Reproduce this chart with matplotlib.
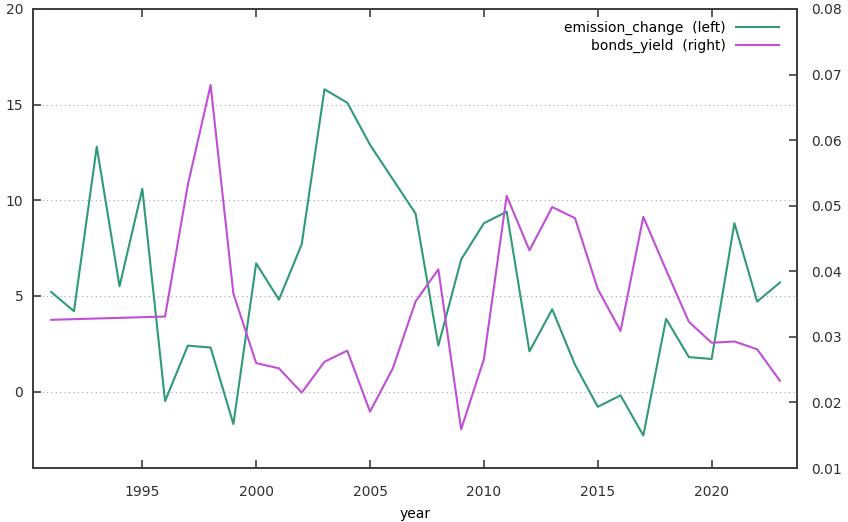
import matplotlib.pyplot as plt
from matplotlib.ticker import FormatStrFormatter

years = list(range(1991, 2024))
emission_change = [5.2, 4.2, 12.8, 5.5, 10.6, -0.5, 2.4, 2.3, -1.7, 6.7,
                   4.8, 7.7, 15.8, 15.1, 12.9, 11.1, 9.3, 2.4, 6.9, 8.8,
                   9.4, 2.1, 4.3, 1.4, -0.8, -0.2, -2.3, 3.8, 1.8, 1.7,
                   8.8, 4.7, 5.7]

bond_years = [1991, 1996, 1997, 1998, 1999, 2000, 2001, 2002, 2003, 2004,
              2005, 2006, 2007, 2008, 2009, 2010, 2011, 2012, 2013, 2014,
              2015, 2016, 2017, 2018, 2019, 2020, 2021, 2022, 2023]
bonds_yield = [0.0326, 0.0331, 0.0532, 0.0684, 0.0366, 0.0260, 0.0252,
               0.0215, 0.0262, 0.0279, 0.0186, 0.0252, 0.0354, 0.0403,
               0.0159, 0.0266, 0.0515, 0.0432, 0.0498, 0.0481, 0.0373,
               0.0309, 0.0483, 0.0402, 0.0323, 0.0291, 0.0293, 0.0281,
               0.0233]

green = "#2f9a78"
violet = "#c04fd6"
axis_col = "#404040"

plt.rcParams['font.family'] = ['DejaVu Sans']
plt.rcParams['font.size'] = 10

fig = plt.figure(figsize=(8.48, 5.22), dpi=100)
ax = fig.add_axes([0.0389, 0.1034, 0.901, 0.8794])
ax2 = ax.twinx()

l1, = ax.plot(years, emission_change, color=green, lw=1.5,
              label="emission_change  (left)")
l2, = ax2.plot(bond_years, bonds_yield, color=violet, lw=1.5,
               label="bonds_yield  (right)")

ax.set_xlim(1990.2, 2023.75)
ax.set_ylim(-4, 20)
ax2.set_ylim(0.01, 0.08)
ax.set_xticks([1995, 2000, 2005, 2010, 2015, 2020])
ax.set_yticks([0, 5, 10, 15, 20])
ax2.set_yticks([0.01, 0.02, 0.03, 0.04, 0.05, 0.06, 0.07, 0.08])
ax2.yaxis.set_major_formatter(FormatStrFormatter('%.2f'))

# dotted grid only for the left axis
ax.grid(axis='y', color='#a8a8a8', linestyle=(0, (1, 3)), lw=0.8)
ax.set_axisbelow(True)

for a in (ax, ax2):
    for s in a.spines.values():
        s.set_color(axis_col)
        s.set_linewidth(1.3)
ax.tick_params(axis='x', direction='in', top=True, length=6, width=1.2,
               color=axis_col, labelcolor='#303030', pad=12)
ax.tick_params(axis='y', direction='in', length=6, width=1.2,
               color=axis_col, labelcolor='#303030', pad=7)
ax2.tick_params(axis='y', direction='in', length=6, width=1.2,
                color=axis_col, labelcolor='#303030', pad=10)

ax.set_xlabel("year", labelpad=6)

leg = ax2.legend(handles=[l1, l2], loc='upper right', frameon=False,
                 markerfirst=False, handlelength=3.1, handletextpad=0.72,
                 labelspacing=0.3, borderaxespad=0.2,
                 bbox_to_anchor=(0.9875, 0.993), fontsize=10)

fig.savefig("out.png", dpi=100)
